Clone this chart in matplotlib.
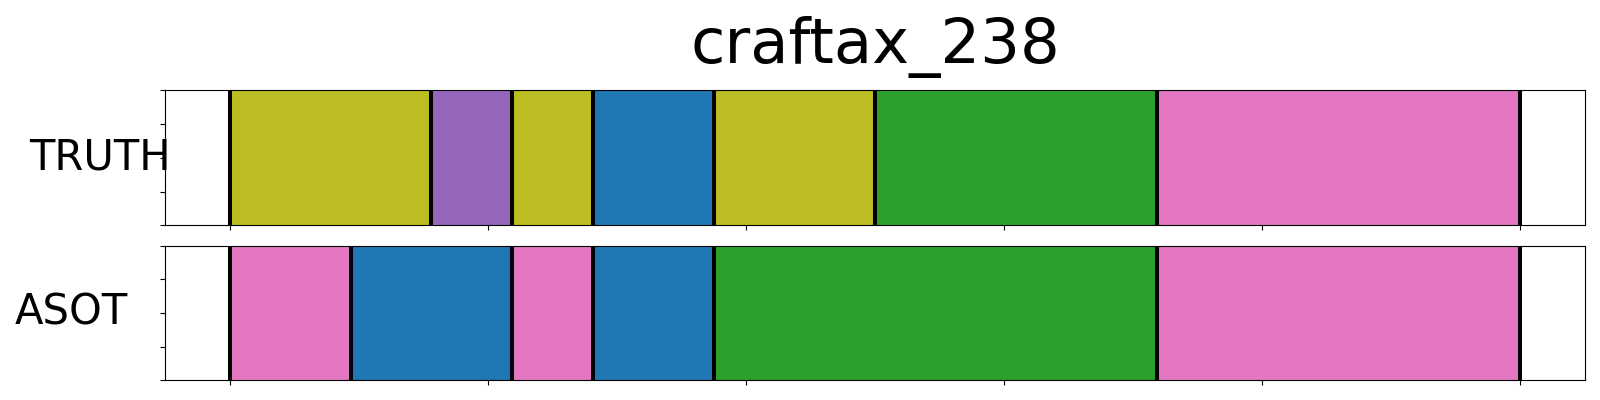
import matplotlib
matplotlib.use("Agg")
import matplotlib.pyplot as plt

title = "craftax_238"
row_names = ["TRUTH", "ASOT"]

# segment boundaries (normalized timeline) and class ids per segment
truth_bounds = [0.0, 0.15625, 0.21875, 0.28125, 0.375, 0.5, 0.71875, 1.0]
truth_classes = [8, 4, 8, 0, 8, 2, 6]
asot_bounds = [0.0, 0.09375, 0.21875, 0.28125, 0.375, 0.71875, 1.0]
asot_classes = [6, 0, 6, 0, 2, 6]

x_ticks = [0.0, 0.2, 0.4, 0.6, 0.8, 1.0]
y_ticks = [0.0, 0.25, 0.5, 0.75, 1.0]

cmap = plt.get_cmap("tab10")

fig = plt.figure(figsize=(16, 4), dpi=100)
fig.subplots_adjust(left=0.1033, right=0.9906, top=0.774, bottom=0.049, hspace=0.151)
axes = fig.subplots(2, 1)

rows = [(truth_bounds, truth_classes), (asot_bounds, asot_classes)]
label_x = [-0.0462, -0.0664]

for ax, (bounds, classes), name, lx in zip(axes, rows, row_names, label_x):
    for s, e, c in zip(bounds[:-1], bounds[1:], classes):
        ax.axvspan(s, e, color=cmap(c), lw=0)
    for b in bounds:
        ax.axvline(b, color="black", lw=2.9)
    ax.set_ylim(0, 1)
    ax.set_xticks(x_ticks)
    ax.set_xticklabels([])
    ax.set_yticks(y_ticks)
    ax.set_yticklabels([])
    ax.set_ylabel(name, rotation=0, fontsize=30, ha="center", va="center")
    ax.yaxis.set_label_coords(lx, 0.5)

axes[0].set_title(title, fontsize=45, pad=20)

fig.savefig("out.png", dpi=100)
